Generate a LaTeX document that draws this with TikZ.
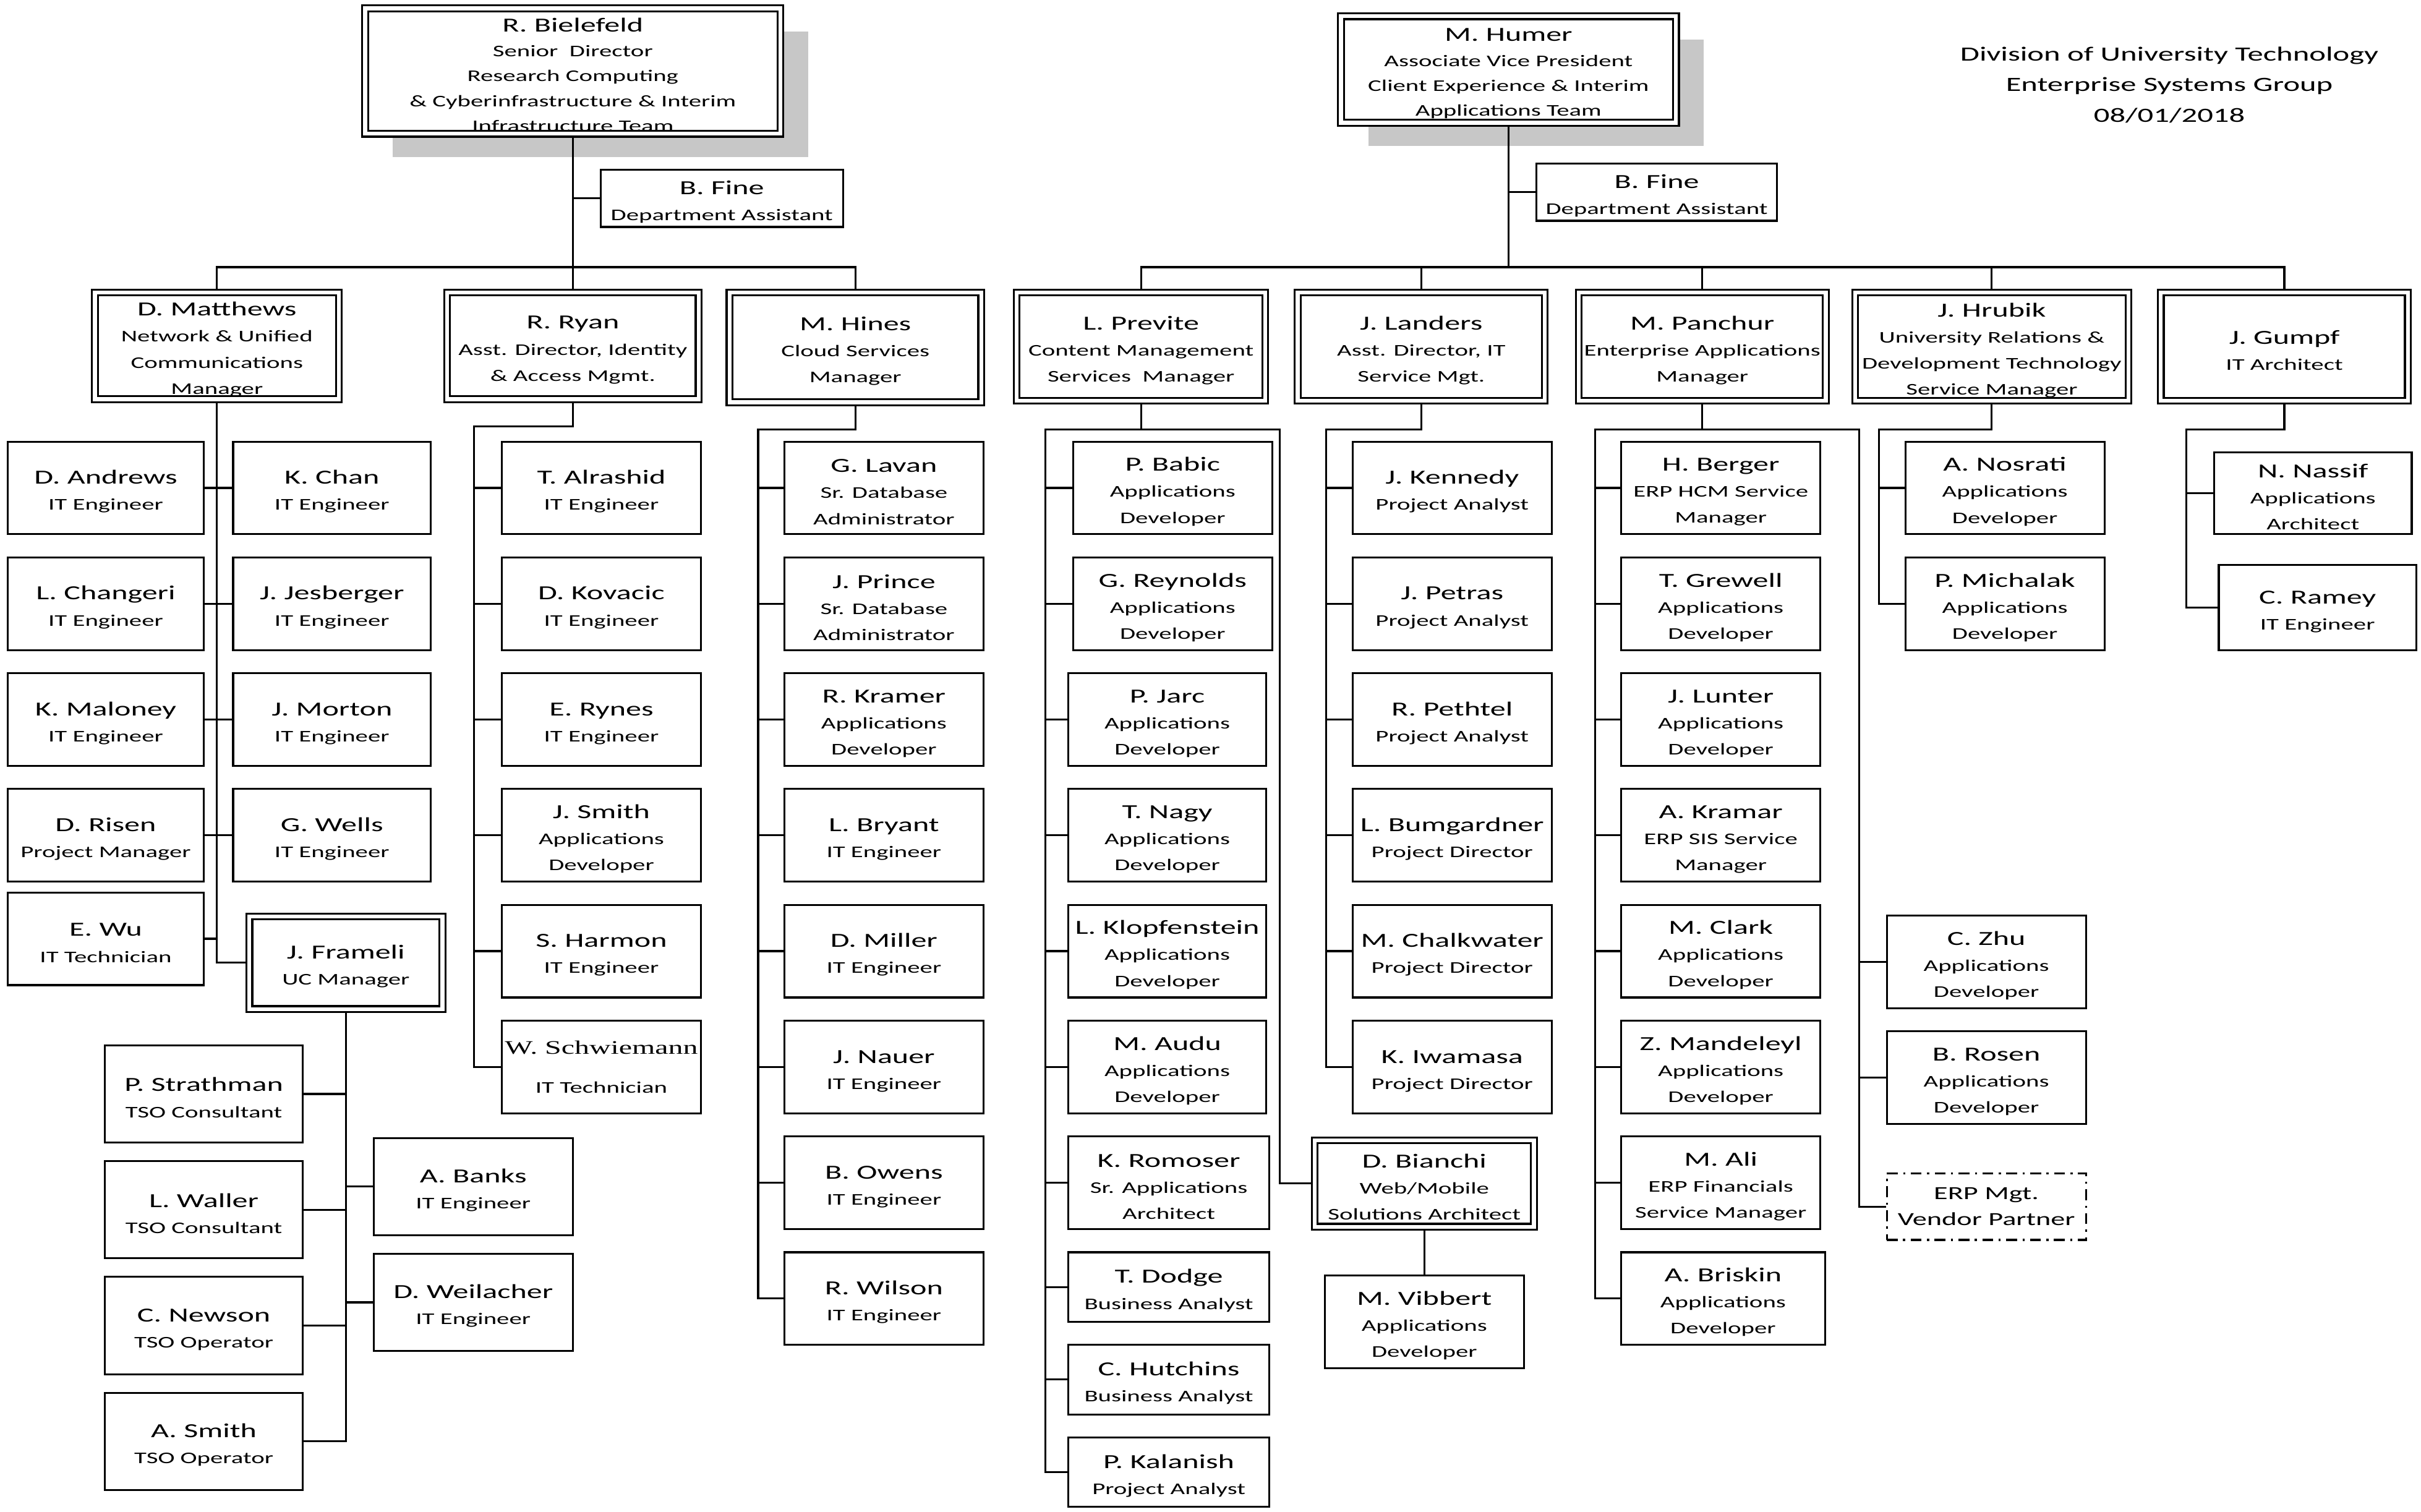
\documentclass[tikz,border=0pt]{standalone}
\usepackage{fontspec}
\setmainfont{Carlito}[FakeStretch=1.55]
\newfontfamily\wsfont{Liberation Serif}[FakeStretch=1.55]
\usetikzlibrary{shadows}
\newcommand\nm[1]{{\fontsize{9.2}{12}\selectfont\rule{0pt}{9.7pt}#1}}
\tikzset{
  emp/.style={draw,fill=white,align=center,inner sep=1pt,minimum width=3.225cm,minimum height=1.5cm},
  mgr/.style={emp,double,double distance=1.8pt,outer sep=1.8pt},
  sz/.style 2 args={minimum width=#1*0.025cm,minimum height=#2*0.025cm},
  vendor/.style={emp,dash pattern=on 5pt off 2.5pt on 1pt off 2.5pt},
  shd/.style={drop shadow={shadow xshift=0.45cm,shadow yshift=-0.375cm,fill=black!22,opacity=1}}
}
\begin{document}
\begin{tikzpicture}[x=0.025cm,y=-0.025cm,line width=0.9pt,font=\fontsize{7.5}{12}\selectfont]
\useasboundingbox (0,0) rectangle (1568,979);
% heads
\node[mgr,shd,sz={269}{77},font=\fontsize{7.5}{11.5}\selectfont] (bielefeld) at (371,46) {\nm{R. Bielefeld}\\Senior\ \ Director\\Research Computing\\\& Cyberinfrastructure \& Interim\\Infrastructure Team};
\node[mgr,shd,sz={217}{69},font=\fontsize{7.5}{11.5}\selectfont] (humer) at (977,45) {\nm{M. Humer}\\Associate Vice President\\Client Experience \& Interim\\Applications Team};
\node[emp,sz={157}{37}] (fineL) at (467.5,128.5) {\nm{B. Fine}\\Department Assistant};
\node[emp,sz={156}{37}] (fineR) at (1073,124.5) {\nm{B. Fine}\\Department Assistant};
\node[align=center,font=\fontsize{9.3}{14.2}\selectfont] (title) at (1405,55) {Division of University Technology\\Enterprise Systems Group\\08/01/2018};
% managers
\node[mgr,sz={158}{69}] (matthews) at (140.5,224) {\nm{D. Matthews}\\Network \& Unified\\Communications\\Manager};
\node[mgr,sz={163}{69}] (ryan) at (371,224) {\nm{R. Ryan}\\Asst. Director, Identity\\\& Access Mgmt.};
\node[mgr,sz={163}{71}] (hines) at (554,225) {\nm{M. Hines}\\Cloud Services\\Manager};
\node[mgr,sz={161}{70}] (previte) at (739,224.5) {\nm{L. Previte}\\Content Management\\Services\ \ Manager};
\node[mgr,sz={160}{70}] (landers) at (920.5,224.5) {\nm{J. Landers}\\Asst. Director, IT\\Service Mgt.};
\node[mgr,sz={160}{70}] (panchur) at (1102.5,224.5) {\nm{M. Panchur}\\Enterprise Applications\\Manager};
\node[mgr,sz={177}{70}] (hrubik) at (1290,224.5) {\nm{J. Hrubik}\\University Relations \&\\Development Technology\\Service Manager};
\node[mgr,sz={160}{70}] (gumpf) at (1479.5,224.5) {\nm{J. Gumpf}\\IT Architect};
% Matthews team
\foreach \n/\y/\txt in {andrews/316/{\nm{D. Andrews}\\IT Engineer},changeri/391/{\nm{L. Changeri}\\IT Engineer},
  maloney/466/{\nm{K. Maloney}\\IT Engineer},risen/541/{\nm{D. Risen}\\Project Manager},wu/608/{\nm{E. Wu}\\IT Technician}}
  \node[emp,sz={127}{60}] (\n) at (68.5,\y) {\txt};
\foreach \n/\y/\txt in {chan/316/{\nm{K. Chan}\\IT Engineer},jesberger/391/{\nm{J. Jesberger}\\IT Engineer},
  morton/466/{\nm{J. Morton}\\IT Engineer},wells/541/{\nm{G. Wells}\\IT Engineer}}
  \node[emp,sz={128}{60}] (\n) at (215,\y) {\txt};
\node[mgr,sz={125}{60}] (frameli) at (224,623.5) {\nm{J. Frameli}\\UC Manager};
\foreach \n/\y/\txt in {strathman/708.5/{\nm{P. Strathman}\\TSO Consultant},waller/783.5/{\nm{L. Waller}\\TSO Consultant},
  newson/858.5/{\nm{C. Newson}\\TSO Operator},asmith/933.5/{\nm{A. Smith}\\TSO Operator}}
  \node[emp,sz={128}{63}] (\n) at (132,\y) {\txt};
\foreach \n/\y/\txt in {banks/768.5/{\nm{A. Banks}\\IT Engineer},weilacher/843.5/{\nm{D. Weilacher}\\IT Engineer}}
  \node[emp,sz={129}{63}] (\n) at (306.5,\y) {\txt};
% Ryan team
\foreach \n/\y/\txt in {alrashid/316/{\nm{T. Alrashid}\\IT Engineer},kovacic/391/{\nm{D. Kovacic}\\IT Engineer},
  rynes/466/{\nm{E. Rynes}\\IT Engineer},jsmith/541/{\nm{J. Smith}\\Applications\\Developer},
  harmon/616/{\nm{S. Harmon}\\IT Engineer},schwiemann/691/{{\wsfont\fontsize{8.8}{12}\selectfont W. Schwiemann}\\[6pt]IT Technician}}
  \node[emp,sz={129}{60}] (\n) at (389.5,\y) {\txt};
% Hines team
\foreach \n/\y/\txt in {lavan/316/{\nm{G. Lavan}\\Sr. Database\\Administrator},prince/391/{\nm{J. Prince}\\Sr. Database\\Administrator},
  kramer/466/{\nm{R. Kramer}\\Applications\\Developer},bryant/541/{\nm{L. Bryant}\\IT Engineer},
  miller/616/{\nm{D. Miller}\\IT Engineer},nauer/691/{\nm{J. Nauer}\\IT Engineer},
  owens/766/{\nm{B. Owens}\\IT Engineer},wilson/841/{\nm{R. Wilson}\\IT Engineer}}
  \node[emp,sz={129}{60}] (\n) at (572.5,\y) {\txt};
% Previte team
\foreach \n/\y/\txt in {babic/316/{\nm{P. Babic}\\Applications\\Developer},reynolds/391/{\nm{G. Reynolds}\\Applications\\Developer}}
  \node[emp,sz={129}{60}] (\n) at (759.5,\y) {\txt};
\foreach \n/\y/\txt in {jarc/466/{\nm{P. Jarc}\\Applications\\Developer},nagy/541/{\nm{T. Nagy}\\Applications\\Developer},
  klopfenstein/616/{\nm{L. Klopfenstein}\\Applications\\Developer},audu/691/{\nm{M. Audu}\\Applications\\Developer}}
  \node[emp,sz={128}{60}] (\n) at (756,\y) {\txt};
\node[emp,sz={130}{60}] (romoser) at (757,766) {\nm{K. Romoser}\\Sr. Applications\\Architect};
\foreach \n/\y/\txt in {dodge/833.5/{\nm{T. Dodge}\\Business Analyst},hutchins/893.5/{\nm{C. Hutchins}\\Business Analyst},
  kalanish/953.5/{\nm{P. Kalanish}\\Project Analyst}}
  \node[emp,sz={130}{45}] (\n) at (757,\y) {\txt};
\node[mgr,sz={142}{56}] (bianchi) at (922.5,766.5) {\nm{D. Bianchi}\\Web/Mobile\\Solutions Architect};
\node[emp,sz={129}{60}] (vibbert) at (922.5,856) {\nm{M. Vibbert}\\Applications\\Developer};
% Landers team
\foreach \n/\y/\txt in {kennedy/316/{\nm{J. Kennedy}\\Project Analyst},petras/391/{\nm{J. Petras}\\Project Analyst},
  pethtel/466/{\nm{R. Pethtel}\\Project Analyst},bumgardner/541/{\nm{L. Bumgardner}\\Project Director},
  chalkwater/616/{\nm{M. Chalkwater}\\Project Director},iwamasa/691/{\nm{K. Iwamasa}\\Project Director}}
  \node[emp,sz={129}{60}] (\n) at (940.5,\y) {\txt};
% Panchur team
\foreach \n/\y/\txt in {berger/316/{\nm{H. Berger}\\ERP HCM Service\\Manager},grewell/391/{\nm{T. Grewell}\\Applications\\Developer},
  lunter/466/{\nm{J. Lunter}\\Applications\\Developer},kramar/541/{\nm{A. Kramar}\\ERP SIS Service\\Manager},
  clark/616/{\nm{M. Clark}\\Applications\\Developer},mandeleyl/691/{\nm{Z. Mandeleyl}\\Applications\\Developer},
  ali/766/{\nm{M. Ali}\\ERP Financials\\Service Manager}}
  \node[emp,sz={129}{60}] (\n) at (1114.5,\y) {\txt};
\node[emp,sz={132}{60}] (briskin) at (1116,841) {\nm{A. Briskin}\\Applications\\Developer};
\foreach \n/\y/\txt in {zhu/623/{\nm{C. Zhu}\\Applications\\Developer},rosen/698/{\nm{B. Rosen}\\Applications\\Developer}}
  \node[emp,sz={129}{60}] (\n) at (1286.5,\y) {\txt};
\node[vendor,sz={129}{43},font=\fontsize{8.5}{12}\selectfont] (erp) at (1286.5,781.5) {ERP Mgt.\\Vendor Partner};
% Hrubik and Gumpf teams
\foreach \n/\y/\txt in {nosrati/316/{\nm{A. Nosrati}\\Applications\\Developer},michalak/391/{\nm{P. Michalak}\\Applications\\Developer}}
  \node[emp,sz={129}{60}] (\n) at (1298.5,\y) {\txt};
\node[emp,sz={128}{53}] (nassif) at (1498,319.5) {\nm{N. Nassif}\\Applications\\Architect};
\node[emp,sz={128}{55}] (ramey) at (1501,393.5) {\nm{C. Ramey}\\IT Engineer};
% lines
\coordinate (lbar) at (371,173);
\coordinate (rbar) at (978,173);
\draw (bielefeld.south) -- (ryan.north);
\draw (matthews.north) |- (lbar) -| (hines.north);
\draw (fineL.west) -- (fineL.west -| bielefeld.south);
\draw (humer.south) -- (humer.south |- rbar);
\draw (previte.north) |- (rbar) -| (gumpf.north);
\foreach \n in {landers,panchur,hrubik}
  \draw (\n.north) -- (\n.north |- rbar);
\draw (fineR.west) -- (fineR.west -| humer.south);
% Matthews lines
\draw (matthews.south) |- (frameli.west);
\foreach \n in {andrews,changeri,maloney,risen,wu}
  \draw (\n.east) -- (\n.east -| matthews.south);
\foreach \n in {chan,jesberger,morton,wells}
  \draw (\n.west) -- (\n.west -| matthews.south);
\draw (frameli.south) |- (asmith.east);
\foreach \n in {strathman,waller,newson}
  \draw (\n.east) -- (\n.east -| frameli.south);
\foreach \n in {banks,weilacher}
  \draw (\n.west) -- (\n.west -| frameli.south);
% Ryan, Hines lines
\coordinate (ryanbus) at (307,276);
\draw (ryan.south) |- (ryanbus) |- (schwiemann.west);
\foreach \n in {alrashid,kovacic,rynes,jsmith,harmon}
  \draw (\n.west) -- (\n.west -| ryanbus);
\coordinate (hinesbus) at (491,278);
\draw (hines.south) |- (hinesbus) |- (wilson.west);
\foreach \n in {lavan,prince,kramer,bryant,miller,nauer,owens}
  \draw (\n.west) -- (\n.west -| hinesbus);
% Previte lines
\coordinate (prevL) at (677,278);
\coordinate (prevR) at (829,278);
\draw (previte.south) -- (previte.south |- prevL);
\draw (kalanish.west) -| (prevL) -- (prevR) |- (bianchi.west);
\foreach \n in {babic,reynolds,jarc,nagy,klopfenstein,audu,romoser,dodge,hutchins}
  \draw (\n.west) -- (\n.west -| prevL);
\draw (bianchi.south) -- (vibbert.north);
% Landers lines
\coordinate (landbus) at (859,278);
\draw (landers.south) |- (landbus) |- (iwamasa.west);
\foreach \n in {kennedy,petras,pethtel,bumgardner,chalkwater}
  \draw (\n.west) -- (\n.west -| landbus);
% Panchur lines
\coordinate (panL) at (1033,278);
\coordinate (panR) at (1204,278);
\draw (panchur.south) -- (panchur.south |- panL);
\draw (briskin.west) -| (panL) -- (panR) |- (erp.west);
\foreach \n in {berger,grewell,lunter,kramar,clark,mandeleyl,ali}
  \draw (\n.west) -- (\n.west -| panL);
\foreach \n in {zhu,rosen}
  \draw (\n.west) -- (\n.west -| panR);
% Hrubik, Gumpf lines
\coordinate (hrubus) at (1217,278);
\draw (hrubik.south) |- (hrubus) |- (michalak.west);
\draw (nosrati.west) -- (nosrati.west -| hrubus);
\coordinate (gumpbus) at (1416,278);
\draw (gumpf.south) |- (gumpbus) |- (ramey.west);
\draw (nassif.west) -- (nassif.west -| gumpbus);
\end{tikzpicture}
\end{document}
